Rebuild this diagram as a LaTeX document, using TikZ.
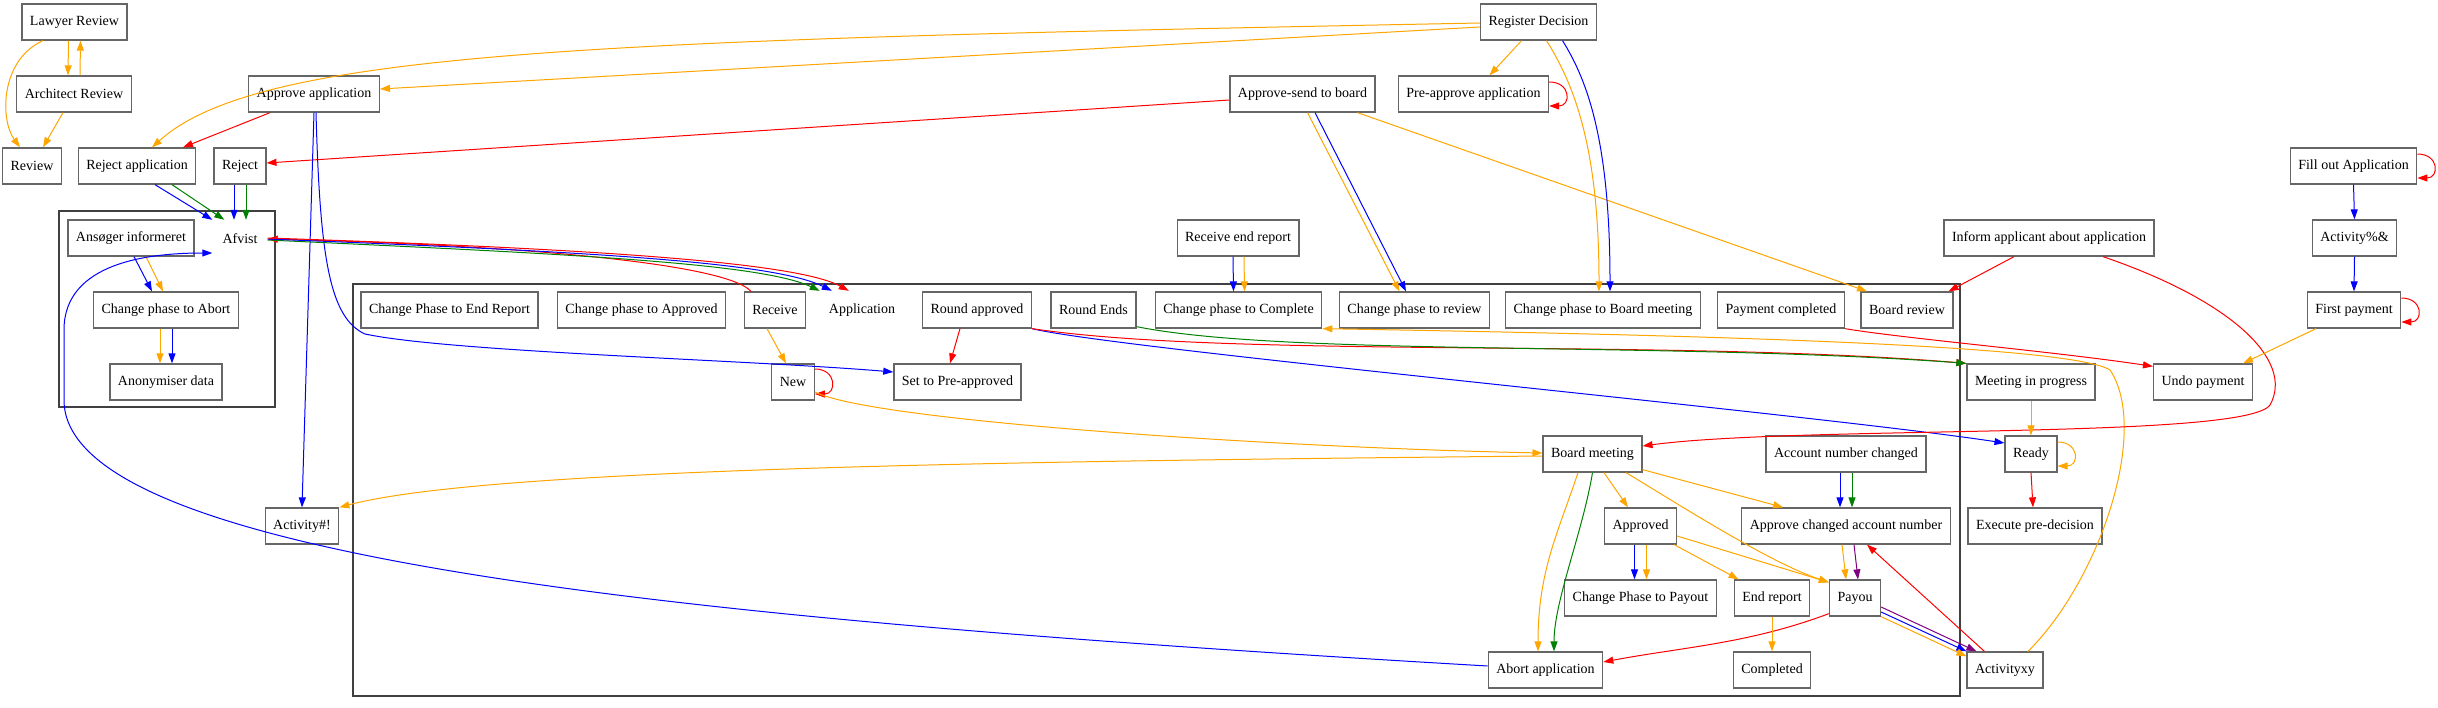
\documentclass[tikz,border=0pt]{standalone}
\usepackage{fontspec}
\setmainfont{Liberation Serif}
\usetikzlibrary{arrows.meta}
\definecolor{gvorange}{RGB}{255,165,0}
\definecolor{gvgreen}{RGB}{0,128,0}
\definecolor{gvpurple}{RGB}{128,0,128}
\tikzset{
    act/.style={rectangle,draw=black!60,line width=1.3bp,minimum height=36bp,inner xsep=8bp,inner ysep=0,font=\fontsize{14bp}{16bp}\selectfont},
    tagtext/.style={rectangle,inner sep=0,minimum height=38bp,font=\fontsize{14bp}{16bp}\selectfont},
    link/.style={-{Triangle[length=10bp,width=7bp]},line width=1bp},
    cluster/.style={draw=black!75,line width=1.1bp}
}

\begin{document}
\begin{tikzpicture}[x=1bp,y=-1bp]
    \useasboundingbox (0,0) rectangle (2438,708);
    \draw[cluster] (59,211) rectangle (275,407);
    \draw[cluster] (353,284) rectangle (1960,696);

    \node[act] (lawyer) at (74.5,22) {Lawyer Review};
    \node[act] (architect) at (74,94) {Architect Review};
    \node[act] (review) at (32,166) {Review};
    \node[act] (rejapp) at (137,166) {Reject application};
    \node[act] (reject) at (240,166) {Reject};
    \node[act] (approveapp) at (314,94) {Approve application};
    \node[tagtext,minimum width=55bp] (afvist) at (240,239) {Afvist};
    \node[act] (informed) at (131,238) {Ansøger informeret};
    \node[act] (phaseabort) at (166,310) {Change phase to Abort};
    \node[act] (anonym) at (166,382) {Anonymiser data};
    \node[act] (activityex) at (302,526) {Activity\#!};

    \node[act] (phaseend) at (449.5,310) {Change Phase to End Report};
    \node[act] (phaseapproved) at (641.5,310) {Change phase to Approved};
    \node[act] (receive) at (775,310) {Receive};
    \node[tagtext,minimum width=84bp] (application) at (862,310) {Application};
    \node[act] (new) at (793,382) {New};
    \node[act] (setpre) at (957.5,382) {Set to Pre-approved};
    \node[act] (roundapp) at (977,310) {Round approved};
    \node[act] (roundends) at (1093.5,310) {Round Ends};
    \node[act] (phasecomplete) at (1238.5,310) {Change phase to Complete};
    \node[act] (phasereview) at (1414.5,310) {Change phase to review};
    \node[act] (phaseboard) at (1603,310) {Change phase to Board meeting};
    \node[act] (paydone) at (1781,310) {Payment completed};
    \node[act] (boardreview) at (1907,310) {Board review};
    \node[act] (boardmeet) at (1592.5,454) {Board meeting};
    \node[act] (accchanged) at (1846,454) {Account number changed};
    \node[act] (approved) at (1640.5,526) {Approved};
    \node[act] (approveacc) at (1846,526) {Approve changed account number};
    \node[act] (phasepayout) at (1640.5,598) {Change Phase to Payout};
    \node[act] (endreport) at (1772,598) {End report};
    \node[act] (payou) at (1855,598) {Payou};
    \node[act] (abortapp) at (1545.5,670) {Abort application};
    \node[act] (completed) at (1772,670) {Completed};

    \node[act] (recendrep) at (1238,238) {Receive end report};
    \node[act] (registerdec) at (1538.5,22) {Register Decision};
    \node[act] (approvesend) at (1302.5,94) {Approve-send to board};
    \node[act] (preapprove) at (1473.5,94) {Pre-approve application};
    \node[act] (inform) at (2049,238) {Inform applicant about application};
    \node[act] (fillout) at (2353.5,166) {Fill out Application};
    \node[act] (activitypct) at (2354.5,238) {Activity\%\&};
    \node[act] (firstpay) at (2354,310) {First payment};
    \node[act] (meeting) at (2031,382) {Meeting in progress};
    \node[act] (undopay) at (2203,382) {Undo payment};
    \node[act] (ready) at (2031,454) {Ready};
    \node[act] (execpre) at (2035,526) {Execute pre-decision};
    \node[act] (activityxy) at (2005,670) {Activityxy};

    \draw[link,gvorange] ([xshift=-6bp]lawyer.south) -- ([xshift=-6bp]architect.north);
    \draw[link,gvorange] ([xshift=6bp]architect.north) -- ([xshift=6bp]lawyer.south);
    \draw[link,gvorange] ([xshift=-31.5bp]lawyer.south) .. controls (0,60) and (0,120) .. ([xshift=-12bp]review.north);
    \draw[link,gvorange] ([xshift=-11bp]architect.south) -- ([xshift=11bp]review.north);
    \draw[link,gvorange] ([yshift=-1bp]registerdec.west) .. controls (600,40) and (260,50) .. ([xshift=15bp]rejapp.north);
    \draw[link,gvorange] ([yshift=-5bp]registerdec.west) -- ([yshift=5bp]approveapp.east);
    \draw[link,red] ([xshift=-44bp]approveapp.south) -- ([xshift=46bp]rejapp.north);
    \draw[link,red] ([yshift=-6bp]approvesend.west) -- ([yshift=3bp]reject.east);
    \draw[link,blue] ([xshift=18bp]rejapp.south) -- (afvist.north west);
    \draw[link,gvgreen] ([xshift=35bp]rejapp.south) -- ([xshift=12bp]afvist.north west);
    \draw[link,blue] ([xshift=-6bp]reject.south) -- ([xshift=-6bp]afvist.north);
    \draw[link,gvgreen] ([xshift=6bp]reject.south) -- ([xshift=6bp]afvist.north);
    \draw[link,blue] ([xshift=3bp]informed.south) -- ([xshift=-14bp]phaseabort.north);
    \draw[link,gvorange] ([xshift=15bp]informed.south) -- ([xshift=-3bp]phaseabort.north);
    \draw[link,gvorange] ([xshift=-6bp]phaseabort.south) -- ([xshift=-6bp]anonym.north);
    \draw[link,blue] ([xshift=6bp]phaseabort.south) -- ([xshift=6bp]anonym.north);
    \draw[link,blue] ([yshift=4bp]abortapp.west) .. controls (700,620) and (64,560) .. (64,400) -- (64,330) .. controls (64,262) and (150,253) .. ([yshift=-14bp]afvist.west);
    \draw[link,blue] (approveapp.south) -- (activityex.north);
    \draw[link,blue] ([xshift=2bp]approveapp.south) .. controls (320,260) and (330,318) .. (365,334) .. controls (450,352) and (750,360) .. ([yshift=10bp]setpre.west);

    \draw[link,red] ([xshift=-24bp]receive.north) .. controls +(-25,-28) and +(250,6) .. (afvist.east);
    \draw[link,gvgreen] ([yshift=-1bp]afvist.east) .. controls +(300,14) and +(-60,-28) .. (application.north west);
    \draw[link,blue] ([yshift=0bp]afvist.east) .. controls +(300,12) and +(-60,-30) .. ([xshift=12bp]application.north west);
    \draw[link,red] ([yshift=1bp]afvist.east) .. controls +(300,10) and +(-55,-30) .. ([xshift=29bp]application.north west);
    \draw[link,gvorange] ([xshift=-8bp]receive.south) -- ([xshift=-7bp]new.north);
    \draw[link,red] ([yshift=13bp]new.east) .. controls +(22,0) and +(22,0) .. ([yshift=-12bp]new.east);
    \draw[link,gvorange] ([yshift=-10bp]new.east) .. controls +(60,30) and +(-250,-5) .. ([yshift=1bp]boardmeet.west);
    \draw[link,gvorange] ([yshift=-2bp]boardmeet.west) .. controls +(-500,5) and +(150,-40) .. (activityex.north east);
    \draw[link,red] ([xshift=-17bp]roundapp.south) -- ([xshift=-7.5bp]setpre.north);
    \draw[link,blue] (roundapp.south east) .. controls +(80,20) and +(-200,-30) .. ([yshift=11bp]ready.west);
    \draw[link,red] (roundapp.south east) .. controls +(200,30) and +(-300,-25) .. (meeting.north west);
    \draw[link,gvgreen] ([yshift=2bp]roundends.south east) .. controls +(150,30) and +(-300,-22) .. (meeting.north west);
    \draw[link,blue] ([xshift=-5bp]recendrep.south) -- ([xshift=-5bp]phasecomplete.north);
    \draw[link,gvorange] ([xshift=6bp]recendrep.south) -- ([xshift=6bp]phasecomplete.north);
    \draw[link,gvorange] ([xshift=23bp]activityxy.north) .. controls (2100,580) and (2150,430) .. (2110,370) .. controls (2070,345) and (1700,335) .. (phasecomplete.south east);
    \draw[link,gvorange] ([xshift=5bp]approvesend.south) -- ([xshift=-15bp]phasereview.north);
    \draw[link,blue] ([xshift=12.5bp]approvesend.south) -- ([xshift=-8.5bp]phasereview.north);
    \draw[link,gvorange] ([xshift=55bp]approvesend.south) -- ([xshift=-40bp]boardreview.north);
    \draw[link,gvorange] ([xshift=-17bp]registerdec.south) -- ([xshift=16bp]preapprove.north);
    \draw[link,red] ([yshift=12bp]preapprove.east) .. controls +(22,0) and +(22,0) .. ([yshift=-12bp]preapprove.east);
    \draw[link,gvorange] ([xshift=8bp]registerdec.south) .. controls +(25,40) and +(0,-150) .. ([xshift=-4bp]phaseboard.north);
    \draw[link,blue] ([xshift=24bp]registerdec.south) .. controls +(25,40) and +(0,-150) .. ([xshift=7bp]phaseboard.north);
    \draw[link,red] (paydone.south east) .. controls +(60,10) and +(-100,-15) .. ([yshift=-3bp]undopay.north west);

    \draw[link,red] ([xshift=-35bp]inform.south) -- ([xshift=-5bp]boardreview.north east);
    \draw[link,red] ([xshift=54bp]inform.south) .. controls (2230,300) and (2295,360) .. (2270,405) .. controls (2245,440) and (1800,425) .. ([yshift=8bp]boardmeet.east);
    \draw[link,red] ([yshift=12bp]fillout.east) .. controls +(22,0) and +(22,0) .. ([yshift=-12bp]fillout.east);
    \draw[link,blue] (fillout.south) -- (activitypct.north);
    \draw[link,blue] (activitypct.south) -- (firstpay.north);
    \draw[link,red] ([yshift=12bp]firstpay.east) .. controls +(22,0) and +(22,0) .. ([yshift=-12bp]firstpay.east);
    \draw[link,gvorange] ([xshift=-38bp]firstpay.south) -- ([xshift=40bp]undopay.north);
    \draw[link,gvorange] (meeting.south) -- (ready.north);
    \draw[link,gvorange] ([yshift=12bp]ready.east) .. controls +(22,0) and +(22,0) .. ([yshift=-12bp]ready.east);
    \draw[link,red] (ready.south) -- ([xshift=-2bp]execpre.north);

    \draw[link,gvorange] ([xshift=-14.5bp]boardmeet.south) .. controls +(-20,60) and +(0,-80) .. ([xshift=-7.5bp]abortapp.north);
    \draw[link,gvgreen] (boardmeet.south) .. controls +(-10,60) and +(0,-50) .. ([xshift=8.5bp]abortapp.north);
    \draw[link,gvorange] ([xshift=11.5bp]boardmeet.south) -- ([xshift=-12.5bp]approved.north);
    \draw[link,gvorange] ([yshift=3bp]boardmeet.south east) -- ([xshift=42bp]approveacc.north west);
    \draw[link,gvorange] ([xshift=33.5bp]boardmeet.south) .. controls +(50,30) and +(-60,-20) .. ([yshift=-3bp]payou.north west);
    \draw[link,gvorange] ([yshift=-10bp]approved.east) -- ([yshift=-3bp]payou.north west);
    \draw[link,gvorange] ([xshift=-3bp]approved.south east) -- ([xshift=5bp]endreport.north west);
    \draw[link,blue] ([xshift=-6bp]approved.south) -- ([xshift=-6bp]phasepayout.north);
    \draw[link,gvorange] ([xshift=6bp]approved.south) -- ([xshift=6bp]phasepayout.north);
    \draw[link,blue] ([xshift=-6bp]accchanged.south) -- ([xshift=-6bp]approveacc.north);
    \draw[link,gvgreen] ([xshift=6bp]accchanged.south) -- ([xshift=6bp]approveacc.north);
    \draw[link,gvorange] ([xshift=-4bp]approveacc.south) -- ([xshift=-9bp]payou.north);
    \draw[link,gvpurple] ([xshift=8bp]approveacc.south) -- ([xshift=3bp]payou.north);
    \draw[link,gvpurple] ([yshift=-9bp]payou.east) -- ([xshift=10bp]activityxy.north west);
    \draw[link,blue] ([yshift=-14bp]payou.east) -- (activityxy.north west);
    \draw[link,gvorange] (payou.south east) -- ([yshift=-5bp]activityxy.north west);
    \draw[link,red] ([xshift=18bp]activityxy.north west) -- ([xshift=21bp]approveacc.south);
    \draw[link,red] ([yshift=3bp]payou.south west) .. controls +(-80,30) and +(80,-15) .. ([yshift=8bp]abortapp.east);
    \draw[link,gvorange] (endreport.south) -- (completed.north);
\end{tikzpicture}
\end{document}
